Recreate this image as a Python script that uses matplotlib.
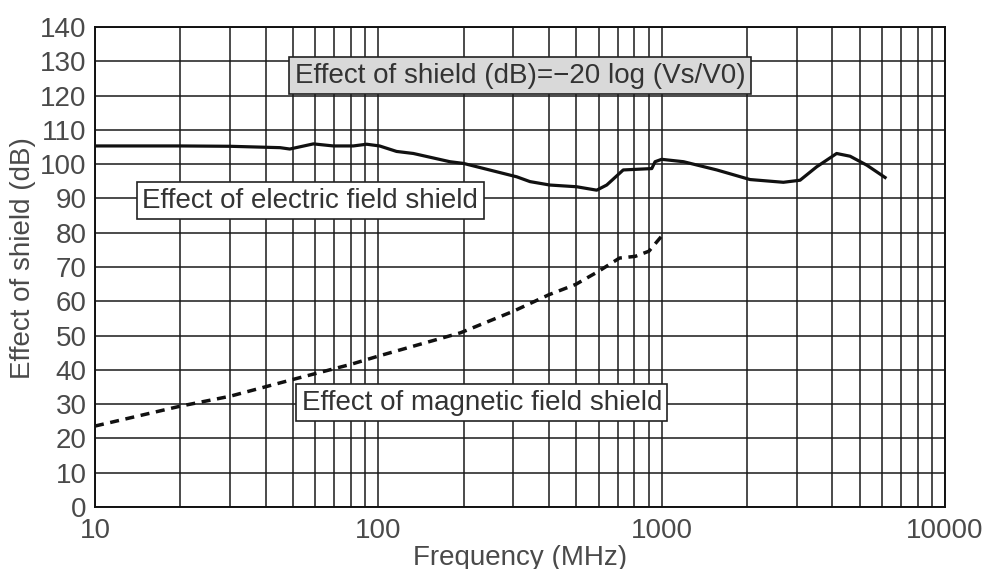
import matplotlib.pyplot as plt
from matplotlib.ticker import LogLocator, NullFormatter

plt.rcParams['font.family'] = ['Liberation Sans', 'DejaVu Sans']

# electric field shield (solid line)
elec_f = [10, 20, 30, 45, 48.7, 59, 69.4, 81.6, 91, 101, 116, 133, 179, 200, 308, 343,
          403, 501, 590, 640, 732, 923, 948, 1000, 1195, 1566, 2051, 2690, 3080,
          3524, 4146, 4626, 5297, 6147]
elec_db = [105.3, 105.3, 105.2, 104.8, 104.4, 105.9, 105.3, 105.3, 105.8, 105.3,
           103.7, 103.1, 100.7, 100.2, 96.3, 94.9, 93.9, 93.4, 92.4, 93.9, 98.3,
           98.7, 100.7, 101.4, 100.7, 98.3, 95.5, 94.7, 95.3, 99.2, 103.1, 102.3,
           99.7, 96.1]

# magnetic field shield (dashed line)
mag_f = [10, 20, 30, 50, 80, 100, 195, 300, 400, 497, 598, 710, 807, 902, 1000]
mag_db = [23.6, 29.4, 32.3, 37.2, 41.6, 44.0, 50.8, 57.1, 61.9, 64.9, 68.7, 72.6,
          73.1, 74.6, 79.0]

y_ticks = list(range(0, 141, 10))
x_ticks = [10, 100, 1000, 10000]
x_labels = ['10', '100', '1000', '10000']

fig = plt.figure(figsize=(9.83, 5.69), dpi=100)
ax = fig.add_axes([0.0966, 0.109, 0.8647, 0.8436])

ax.set_xscale('log')
ax.set_xlim(10, 10000)
ax.set_ylim(0, 140)

ax.plot(elec_f, elec_db, color='#111111', lw=2.3, zorder=3)
ax.plot(mag_f, mag_db, color='#111111', lw=2.5, dashes=(2.6, 1.9), zorder=3)

ax.set_xticks(x_ticks)
ax.set_xticklabels(x_labels)
ax.xaxis.set_minor_locator(LogLocator(base=10, subs=range(2, 10)))
ax.xaxis.set_minor_formatter(NullFormatter())
ax.set_yticks(y_ticks)

ax.grid(True, which='both', axis='x', color='#1a1a1a', lw=1.1)
ax.grid(True, which='major', axis='y', color='#1a1a1a', lw=1.1)
ax.tick_params(which='both', length=0)
ax.tick_params(axis='y', labelsize=20, colors='#4a4a4a', pad=6)
ax.tick_params(axis='x', labelsize=20, colors='#4a4a4a', pad=8)
for s in ax.spines.values():
    s.set_color('#111111')
    s.set_linewidth(1.4)

ax.set_xlabel('Frequency (MHz)', fontsize=20, color='#4a4a4a', labelpad=1)
ax.set_ylabel('Effect of shield (dB)', fontsize=20, color='#4a4a4a')
ax.yaxis.set_label_coords(-0.069, 0.519)

box_style = 'square,pad=0.2'
ax.text(0.5, 0.898, 'Effect of shield (dB)=\u221220 log (Vs/V0)', transform=ax.transAxes,
        ha='center', va='center', fontsize=20, color='#333333', zorder=5,
        bbox=dict(boxstyle=box_style, facecolor='#d9d9d9', edgecolor='#222222', lw=1.2))
ax.text(0.253, 0.638, 'Effect of electric field shield', transform=ax.transAxes,
        ha='center', va='center', fontsize=20, color='#333333', zorder=5,
        bbox=dict(boxstyle=box_style, facecolor='white', edgecolor='#222222', lw=1.2))
ax.text(0.455, 0.217, 'Effect of magnetic field shield', transform=ax.transAxes,
        ha='center', va='center', fontsize=20, color='#333333', zorder=5,
        bbox=dict(boxstyle=box_style, facecolor='white', edgecolor='#222222', lw=1.2))

fig.savefig('out.png', dpi=100)
